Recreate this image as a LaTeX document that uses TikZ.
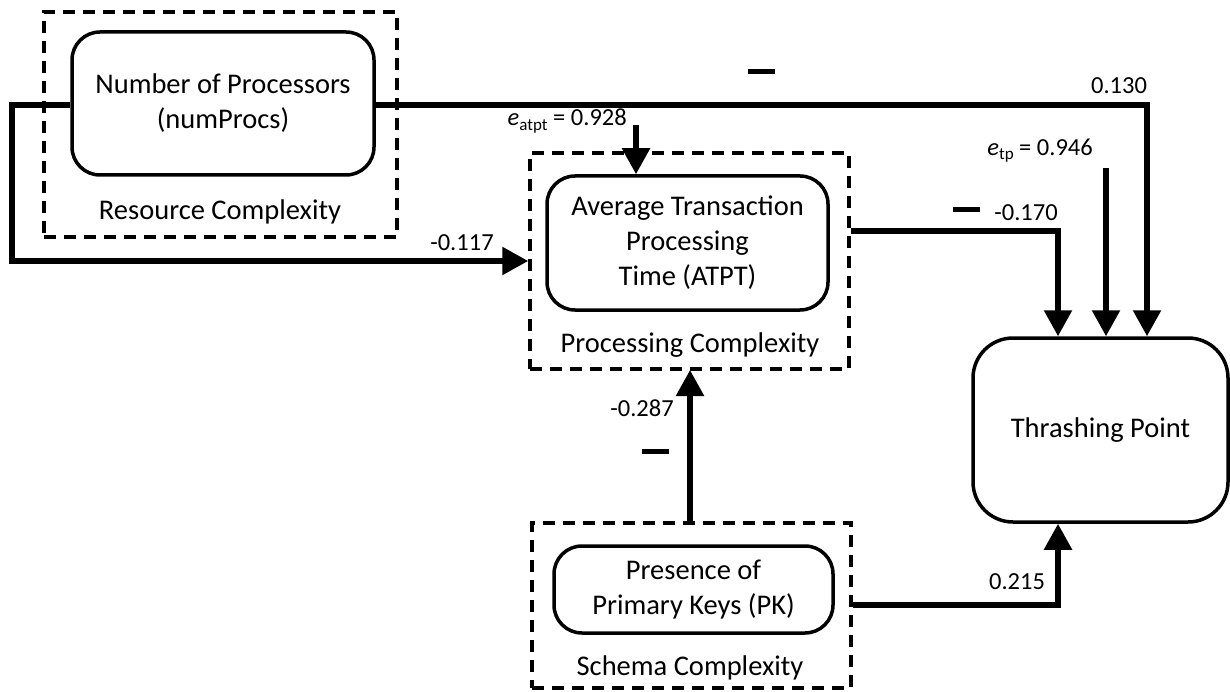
\documentclass[tikz,border=0pt]{standalone}
\usepackage{fontspec}
\setmainfont{Carlito}
\usetikzlibrary{arrows.meta}
\begin{document}
\begin{tikzpicture}[x=1pt,y=-1pt,
  every node/.style={font=\fontsize{28.5}{35}\selectfont, inner sep=0pt, align=center},
  group/.style={draw, line width=3.5pt, dash pattern=on 12pt off 8pt},
  var/.style={draw, line width=3.5pt, rounded corners=28pt},
  conn/.style={line width=5.5pt, -{Triangle[length=26pt,width=27pt]}},
  coef/.style={font=\fontsize{24.5}{28}\selectfont},
  sign/.style={line width=5pt}
]
\useasboundingbox (0,0) rectangle (1230,692);

% groups (dashed frames)
\node[group, minimum width=353pt, minimum height=225pt] (resgrp) at (220.5,124.5) {};
\node[group, minimum width=319pt, minimum height=216pt] (atptgrp) at (689.5,261) {};
\node[group, minimum width=319pt, minimum height=165pt] (schgrp) at (691.5,605.5) {};

% variables
\node[var, minimum width=302pt, minimum height=143pt] (np) at (223,103.5)
  {Number of Processors\\(numProcs)};
\node[var, minimum width=281pt, minimum height=134pt] (atpt) at (687.5,243)
  {Average Transaction\\Processing\\Time (ATPT)};
\node[var, minimum width=279pt, minimum height=87pt] (pk) at (693.5,589.5)
  {Presence of\\Primary Keys (PK)};
\node[var, rounded corners=40pt, minimum width=255pt, minimum height=184pt] (tp) at (1100.5,430)
  {Thrashing Point};

% group labels
\node (reslbl) at (220,212) {Resource Complexity};
\node (atptlbl) at (690,345) {Processing Complexity};
\node (schlbl) at (690,668) {Schema Complexity};

% error terms
\node[coef, anchor=east] (eatpt) at (627,121)
  {\textit{e}\raisebox{-0.35ex}{\fontsize{17}{17}\selectfont atpt} = 0.928};
\coordinate (eatptsrc) at (636,125);
\node[coef, anchor=east] (etp) at (1093,151)
  {\textit{e}\raisebox{-0.35ex}{\fontsize{17}{17}\selectfont tp} = 0.946};
\coordinate (etpsrc) at (1106,168);

% paths
\coordinate (k130) at (1147,105);
\coordinate (kleft) at (12,105);
\coordinate (kleftlow) at (12,261);
\coordinate (k170) at (1058,231);
\coordinate (k215) at (1058,605);

\draw[conn] (np.east |- k130) -- (k130) -- (k130 |- tp.north);
\draw[conn] (np.west |- kleft) -- (kleft) -- (kleftlow) -- (atptgrp.west);
\draw[conn] (atptgrp.east |- k170) -- (k170) -- (k170 |- tp.north);
\draw[conn] (etpsrc) -- (etpsrc |- tp.north);
\draw[conn] (eatptsrc) -- (eatptsrc |- atpt.north);
\draw[conn] (schgrp.north -| 690,0) -- (690,370);
\draw[conn] (schgrp.east |- k215) -- (k215) -- (k215 |- tp.south);

% coefficients
\node[coef] (c130) at (1119,86) {0.130};
\node[coef] (c117) at (462,243) {-0.117};
\node[coef] (c170) at (1026,213) {-0.170};
\node[coef] (c287) at (642,408) {-0.287};
\node[coef] (c215) at (1017,582) {0.215};

% negative-effect marks
\draw[sign] (748,72) -- (775,72);
\draw[sign] (953,210) -- (980,210);
\draw[sign] (642,451) -- (669,451);
\end{tikzpicture}
\end{document}
